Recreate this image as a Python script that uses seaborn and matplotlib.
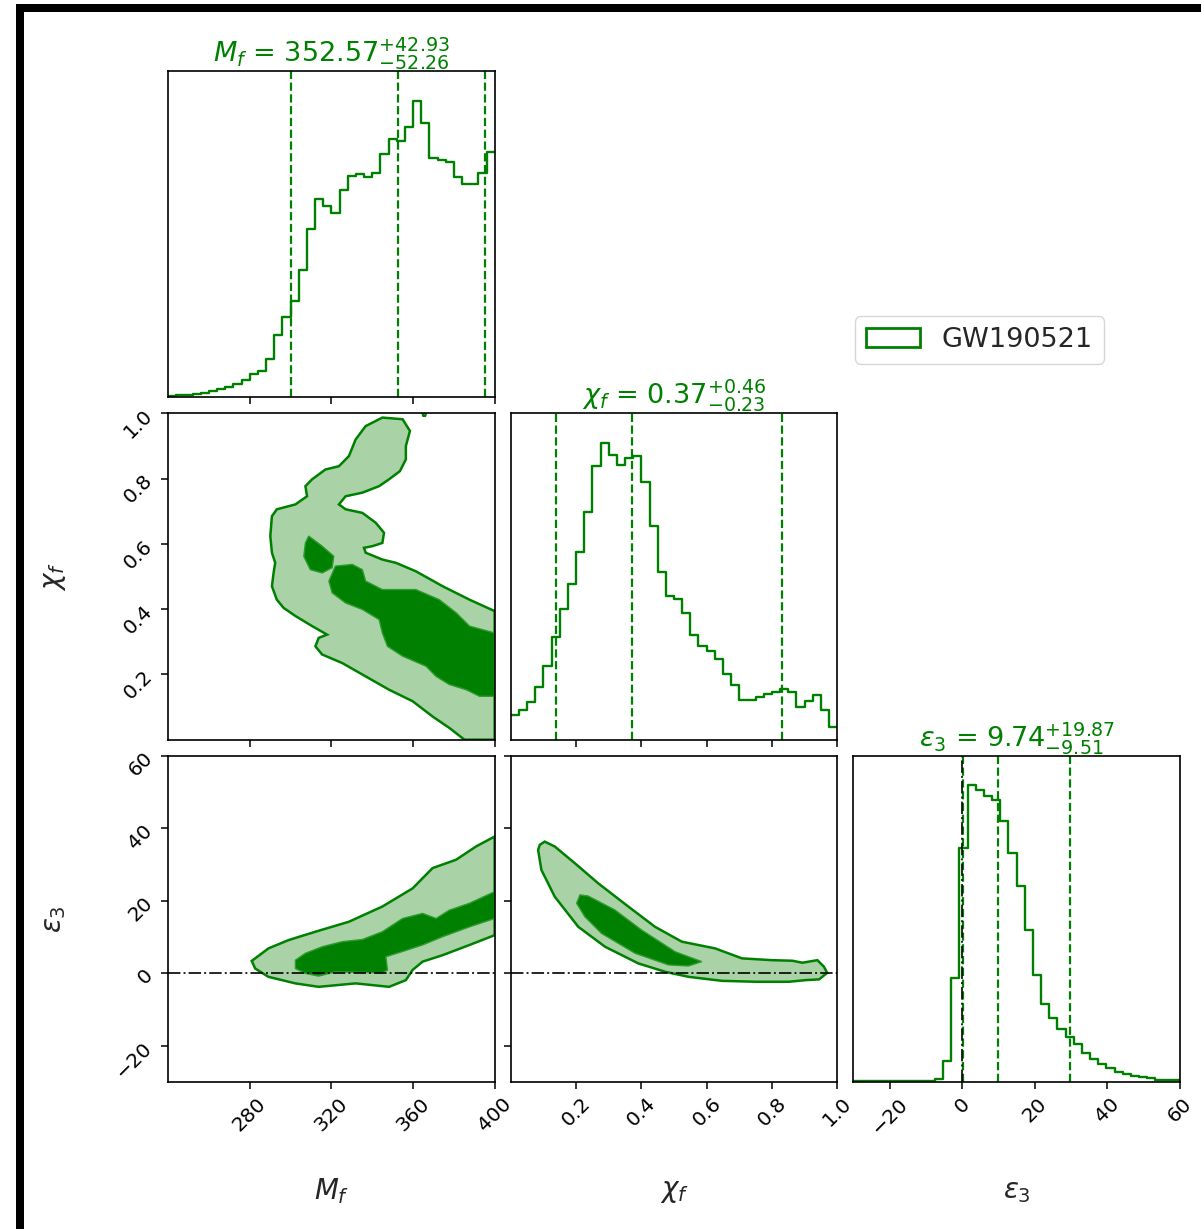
import numpy as np
import pandas as pd
import matplotlib
matplotlib.use("Agg")
import matplotlib.pyplot as plt
import seaborn as sns
from matplotlib.patches import Rectangle, Patch

# ---------------- data ----------------
n_bins = 40
mf_range = (240.0, 400.0)
chi_range = (0.0, 1.0)
eps_range = (-30.0, 60.0)

mf_hist = [5, 7, 8, 10, 13, 18, 24, 30, 40, 52, 70, 80, 114, 188, 242, 290,
           382, 505, 595, 575, 552, 623, 664, 670, 660, 672, 730, 775, 768,
           812, 890, 823, 718, 712, 705, 662, 640, 640, 672, 735]
chi_hist = [73, 88, 113, 158, 223, 310, 393, 468, 565, 685, 823, 893, 858,
            826, 848, 853, 776, 643, 506, 433, 423, 381, 316, 281, 268, 243,
            198, 166, 118, 118, 128, 138, 143, 153, 143, 98, 116, 136, 88, 38]
eps_hist = [2, 2, 2, 2, 2, 2, 2, 2, 2, 3, 8, 63, 313, 703, 891, 878, 858,
            848, 783, 688, 588, 458, 321, 233, 193, 158, 135, 113, 88, 68, 53,
            41, 31, 25, 18, 15, 11, 7, 5, 5]

mf_quant = [300.31, 352.57, 395.50]
chi_quant = [0.14, 0.37, 0.83]
eps_quant = [0.23, 9.74, 29.61]
eps_truth = 0.0

mf_ticks = [280, 320, 360, 400]
chi_ticks = [0.2, 0.4, 0.6, 0.8, 1.0]
eps_ticks = [-20, 0, 20, 40, 60]

mf_label = r"$M_f$"
chi_label = r"$\chi_f$"
eps_label = r"$\varepsilon_3$"
mf_title = r"$M_f$ = $352.57_{-52.26}^{+42.93}$"
chi_title = r"$\chi_f$ = $0.37_{-0.23}^{+0.46}$"
eps_title = r"$\varepsilon_3$ = $9.74_{-9.51}^{+19.87}$"
legend_label = "GW190521"

# contour outlines (x, y) in data units
chi_mf_outer = [(345.0, 0.987), (354.9, 0.982), (358.5, 0.946), (356.5, 0.900),
                (356.5, 0.859), (353.6, 0.823), (348.3, 0.798), (343.4, 0.777),
                (335.2, 0.757), (327.0, 0.746), (323.7, 0.721), (327.0, 0.706),
                (335.2, 0.695), (341.7, 0.665), (345.8, 0.634), (345.0, 0.603),
                (340.1, 0.593), (336.0, 0.588), (336.8, 0.573), (345.0, 0.552),
                (351.6, 0.542), (361.4, 0.516), (374.6, 0.470), (387.7, 0.429),
                (400.0, 0.394), (400.0, 0.0), (385.2, 0.0), (377.8, 0.036),
                (369.6, 0.071), (359.8, 0.118), (348.3, 0.153), (336.8, 0.194),
                (325.3, 0.235), (315.5, 0.261), (312.2, 0.286), (313.8, 0.312),
                (317.9, 0.322), (310.6, 0.348), (302.4, 0.379), (296.6, 0.404),
                (293.3, 0.429), (290.9, 0.470), (291.7, 0.511), (292.5, 0.542),
                (290.9, 0.573), (290.1, 0.624), (290.9, 0.685), (293.3, 0.706),
                (302.4, 0.721), (308.1, 0.746), (307.3, 0.777), (310.6, 0.798),
                (317.1, 0.828), (323.7, 0.838), (328.6, 0.869), (331.9, 0.920),
                (336.8, 0.961)]
chi_mf_dot = [(364.6, 1.0), (366.4, 1.0), (366.0, 0.992), (365.0, 0.992)]
chi_mf_inner_a = [(308.9, 0.624), (315.5, 0.593), (321.2, 0.562), (320.4, 0.527),
                  (315.5, 0.511), (309.7, 0.521), (306.5, 0.562), (307.3, 0.603)]
chi_mf_inner_b = [(322.0, 0.532), (330.3, 0.537), (335.2, 0.521), (336.8, 0.486),
                  (345.0, 0.460), (361.4, 0.460), (372.9, 0.429), (381.1, 0.389),
                  (387.7, 0.348), (400.0, 0.327), (400.0, 0.133), (392.6, 0.133),
                  (386.1, 0.153), (377.8, 0.169), (371.3, 0.194), (366.4, 0.225),
                  (354.9, 0.256), (347.5, 0.286), (345.0, 0.327), (343.4, 0.368),
                  (335.2, 0.399), (327.0, 0.419), (320.4, 0.450), (318.8, 0.486)]

eps_mf_outer = [(281.0, 3.4), (289.2, 6.85), (299.1, 9.15), (312.2, 11.45),
                (328.6, 14.2), (345.0, 18.4), (359.8, 23.4), (369.6, 29.0),
                (381.1, 31.3), (391.0, 35.0), (400.0, 37.7), (400.0, 10.5),
                (387.7, 7.8), (374.6, 5.0), (364.7, 3.2), (359.8, 0.9),
                (356.5, -1.9), (348.3, -3.75), (331.9, -2.8), (313.8, -3.75),
                (302.4, -2.8), (289.2, -1.0), (282.7, 1.3)]
eps_mf_inner = [(302.4, 3.6), (307.3, 5.5), (315.5, 7.3), (325.3, 8.7),
                (335.2, 9.3), (345.0, 11.45), (354.9, 15.1), (364.7, 16.5),
                (371.3, 15.1), (377.8, 17.4), (387.7, 19.3), (400.0, 22.5),
                (400.0, 15.1), (387.7, 12.8), (374.6, 10.1), (364.7, 7.8),
                (354.9, 6.0), (346.7, 4.55), (347.5, 0.9), (345.0, 0.1),
                (322.0, 0.4), (313.8, -0.8), (307.3, -0.05), (302.4, 1.3)]

eps_chi_outer = [(0.104, 36.3), (0.135, 34.95), (0.197, 30.3), (0.268, 24.8),
                 (0.360, 18.4), (0.442, 12.8), (0.524, 8.7), (0.626, 6.85),
                 (0.708, 4.1), (0.800, 3.6), (0.862, 3.45), (0.893, 2.9),
                 (0.939, 3.6), (0.959, 1.8), (0.969, 0.1), (0.944, -1.7),
                 (0.903, -1.9), (0.852, -2.35), (0.749, -2.35), (0.647, -2.1),
                 (0.545, -1.0), (0.473, 0.4), (0.391, 2.7), (0.289, 7.3),
                 (0.207, 12.8), (0.135, 21.1), (0.094, 28.5), (0.084, 34.0),
                 (0.089, 35.4)]
eps_chi_inner = [(0.212, 21.6), (0.237, 21.3), (0.319, 17.45), (0.401, 11.9),
                 (0.504, 5.9), (0.585, 3.2), (0.544, 2.0), (0.483, 2.3),
                 (0.381, 5.5), (0.278, 11.0), (0.227, 15.6), (0.202, 19.3)]

# ---------------- style ----------------
sns.set_style("ticks")
plt.rcParams['font.family'] = ['DejaVu Sans']
plt.rcParams['axes.edgecolor'] = 'black'
plt.rcParams['axes.linewidth'] = 1.2
plt.rcParams['xtick.color'] = 'black'
plt.rcParams['ytick.color'] = 'black'

GREEN = '#008000'
LIGHT = '#a9d3a6'
TICK_FS = 14.5
LABEL_FS = 20
TITLE_FS = 19.5

fig, axes = plt.subplots(3, 3, figsize=(12.01, 12.29), dpi=100)
fig.subplots_adjust(left=0.1399, right=0.9825, bottom=0.1196, top=0.9422,
                    wspace=0.049, hspace=0.049)

ranges = [mf_range, chi_range, eps_range]
ticks = [mf_ticks, chi_ticks, eps_ticks]
labels = [mf_label, chi_label, eps_label]
hists = [mf_hist, chi_hist, eps_hist]
quants = [mf_quant, chi_quant, eps_quant]
titles = [mf_title, chi_title, eps_title]


def poly(ax, pts, face, edge, lw):
    xs = [p[0] for p in pts]
    ys = [p[1] for p in pts]
    ax.fill(xs, ys, facecolor=face, edgecolor=edge, linewidth=lw, zorder=2)


for i in range(3):
    for j in range(3):
        ax = axes[i, j]
        if j > i:
            ax.axis('off')
            continue
        ax.set_xlim(ranges[j])
        for s in ax.spines.values():
            s.set_visible(True)
            s.set_color('black')
            s.set_linewidth(1.2)
        if i == j:
            lo, hi = ranges[j]
            width = (hi - lo) / n_bins
            centers = [lo + width * (k + 0.5) for k in range(n_bins)]
            df = pd.DataFrame({'x': centers, 'w': hists[j]})
            sns.histplot(data=df, x='x', weights='w', bins=n_bins,
                         binrange=ranges[j], element='step', fill=False,
                         color=GREEN, linewidth=1.7, ax=ax)
            ax.set_xlim(ranges[j])
            ax.set_ylim(0, 1.1 * max(hists[j]))
            ax.set_yticks([])
            ax.set_ylabel('')
            for q in quants[j]:
                ax.axvline(q, color=GREEN, ls='--', lw=1.6)
            if j == 2:
                ax.axvline(eps_truth, color='black', ls='-.', lw=1.4, alpha=0.85)
            ax.set_title(titles[j], color=GREEN, fontsize=TITLE_FS)
        else:
            ax.set_ylim(ranges[i])
            ax.set_yticks(ticks[i])
        ax.set_xticks(ticks[j])
        ax.tick_params(axis='both', direction='out', length=5, width=1.1,
                       labelsize=TICK_FS, bottom=True, left=(i != j))
        if i < 2:
            ax.set_xticklabels([])
            ax.set_xlabel('')
        else:
            ax.set_xlabel(labels[j], fontsize=LABEL_FS)
            ax.xaxis.set_label_coords(0.5, -0.29)
            for lab in ax.get_xticklabels():
                lab.set_rotation(45)
        if j == 0 and i > 0:
            ax.set_ylabel(labels[i], fontsize=LABEL_FS)
            ax.yaxis.set_label_coords(-0.305, 0.5)
            for lab in ax.get_yticklabels():
                lab.set_rotation(45)
        elif i != j:
            ax.set_yticklabels([])
            ax.set_ylabel('')

# 2D credible regions
ax = axes[1, 0]
poly(ax, chi_mf_outer, LIGHT, GREEN, 1.8)
poly(ax, chi_mf_dot, LIGHT, GREEN, 1.5)
poly(ax, chi_mf_inner_a, GREEN, '#2f9a2f', 1.0)
poly(ax, chi_mf_inner_b, GREEN, '#2f9a2f', 1.0)

ax = axes[2, 0]
poly(ax, eps_mf_outer, LIGHT, GREEN, 1.8)
poly(ax, eps_mf_inner, GREEN, '#2f9a2f', 1.0)
ax.axhline(eps_truth, color='black', ls='-.', lw=1.4, alpha=0.85, zorder=3)

ax = axes[2, 1]
poly(ax, eps_chi_outer, LIGHT, GREEN, 1.8)
poly(ax, eps_chi_inner, GREEN, '#2f9a2f', 1.0)
ax.axhline(eps_truth, color='black', ls='-.', lw=1.4, alpha=0.85, zorder=3)

# legend
handle = Patch(facecolor='none', edgecolor=GREEN, linewidth=2, label=legend_label)
fig.legend(handles=[handle], loc='center', bbox_to_anchor=(0.8155, 0.7234),
           fontsize=19.5, frameon=True)

# black frame bars (top and left) as in the reference image
fig.add_artist(Rectangle((16 / 1201, 1 - 12 / 1229), 1 - 16 / 1201, 8 / 1229,
                         transform=fig.transFigure, color='black', lw=0))
fig.add_artist(Rectangle((16 / 1201, 0), 8 / 1201, 1 - 4 / 1229,
                         transform=fig.transFigure, color='black', lw=0))

fig.savefig('out.png', dpi=100)
